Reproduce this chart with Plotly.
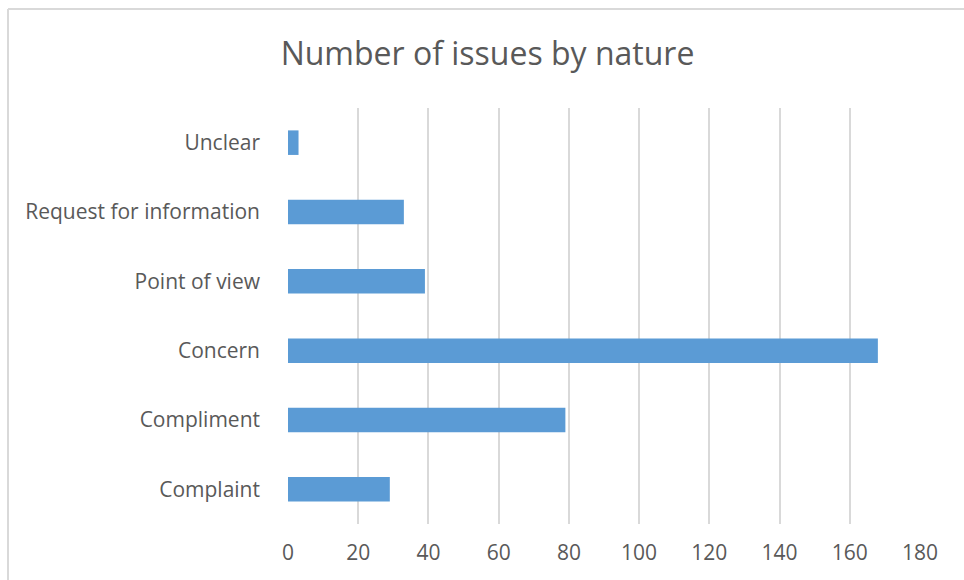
import plotly.graph_objects as go

# Issue counts grouped by their nature
categories = ["Complaint", "Compliment", "Concern", "Point of view",
              "Request for information", "Unclear"]
counts = [29, 79, 168, 39, 33, 3]
x_ticks = [0, 20, 40, 60, 80, 100, 120, 140, 160, 180]

W, H = 964, 580
left, right, top, bottom = 288, 44, 108, 56

fig = go.Figure(
    go.Bar(
        x=counts,
        y=categories,
        orientation="h",
        marker=dict(color="#5B9BD5", line=dict(width=0)),
        width=0.354,
    )
)

text_color = "#595959"
font_family = "Open Sans"

fig.update_layout(
    width=W,
    height=H,
    margin=dict(l=left, r=right, t=top, b=bottom, pad=0),
    paper_bgcolor="white",
    plot_bgcolor="white",
    showlegend=False,
    title=dict(
        text="Number of issues by nature",
        x=(280 + 695) / 2 / W,
        xanchor="center",
        y=1 - 54 / H,
        yanchor="middle",
        font=dict(family=font_family, size=32, color=text_color),
    ),
    xaxis=dict(
        range=[0, 180],
        tickvals=x_ticks,
        ticktext=[str(v) for v in x_ticks],
        showgrid=True,
        gridcolor="#D9D9D9",
        gridwidth=2,
        zeroline=False,
        showline=False,
        ticks="",
        ticklabelstandoff=14,
        tickfont=dict(family=font_family, size=21, color=text_color),
        fixedrange=True,
    ),
    yaxis=dict(
        categoryorder="array",
        categoryarray=categories,
        range=[-0.5, len(categories) - 0.5],
        showgrid=False,
        zeroline=False,
        showline=False,
        ticks="",
        ticklabelstandoff=27,
        tickfont=dict(family=font_family, size=21, color=text_color),
        fixedrange=True,
    ),
)

# Chart frame (left and top edges visible)
fig.add_shape(type="line", xref="paper", yref="paper",
              x0=-(left - 8) / (W - left - right), x1=-(left - 8) / (W - left - right),
              y0=-1, y1=1 + (top - 9) / (H - top - bottom),
              line=dict(color="#D9D9D9", width=2))
fig.add_shape(type="line", xref="paper", yref="paper",
              x0=-(left - 8) / (W - left - right), x1=2,
              y0=1 + (top - 9) / (H - top - bottom), y1=1 + (top - 9) / (H - top - bottom),
              line=dict(color="#D9D9D9", width=2))

fig.write_html("out.html")
